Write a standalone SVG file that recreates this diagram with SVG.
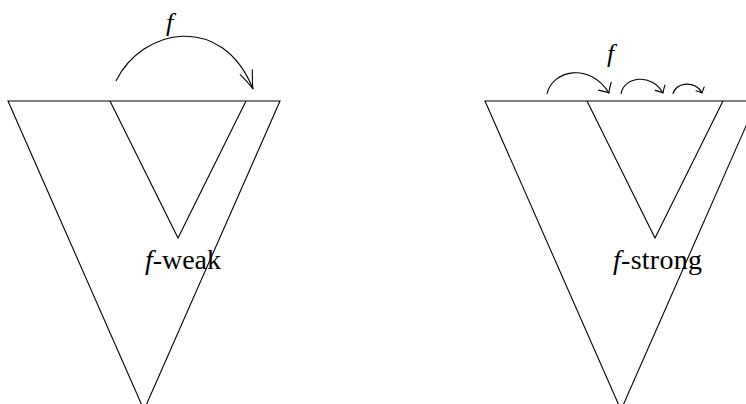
<svg xmlns="http://www.w3.org/2000/svg" width="746" height="404" viewBox="0 0 746 404">
<style>
.ln{fill:none;stroke:#000;stroke-width:1.1;stroke-linejoin:miter}
.arc{fill:none;stroke:#000;stroke-width:1.1}
.hd{fill:none;stroke:#000;stroke-width:1.1;stroke-linecap:round}
.t{font-family:"Liberation Serif","Times New Roman",serif;font-size:26px;fill:#000}
.lb{font-size:28px}
.it{font-style:italic}
</style>
<defs>
<marker id="headL" markerUnits="userSpaceOnUse" markerWidth="40" markerHeight="40" refX="0" refY="0" orient="auto" overflow="visible"><path class="hd" d="M-18,-6.5 Q-6,-1.5 0,0 Q-6,1.5 -18,6.5"/></marker>
<marker id="head1" markerUnits="userSpaceOnUse" markerWidth="30" markerHeight="30" refX="0" refY="0" orient="auto" overflow="visible"><path class="hd" d="M-8,-7.5 Q-3,-2 0,0 Q-3,2 -8,7.5"/></marker>
<marker id="head2" markerUnits="userSpaceOnUse" markerWidth="30" markerHeight="30" refX="0" refY="0" orient="auto" overflow="visible"><path class="hd" d="M-6,-5.5 Q-2.2,-1.5 0,0 Q-2.2,1.5 -6,5.5"/></marker>
<marker id="head3" markerUnits="userSpaceOnUse" markerWidth="30" markerHeight="30" refX="0" refY="0" orient="auto" overflow="visible"><path class="hd" d="M-4.5,-4.5 Q-1.6,-1.2 0,0 Q-1.6,1.2 -4.5,4.5"/></marker>
</defs>

<g id="weak-outer"><path class="ln" d="M8,101 L280,101 L144,410 Z"/></g>
<g id="weak-inner"><path class="ln" d="M110,101 L178,238 L246,101"/></g>
<g id="strong-outer"><path class="ln" d="M485,101 L757,101 L621,410 Z"/></g>
<g id="strong-inner"><path class="ln" d="M587,101 L655,238 L723,101"/></g>

<g id="connectors">
<path class="arc" d="M116,81 C142,28 222,12 253,89" marker-end="url(#headL)"/>
<path class="arc" d="M547,94 C552,70 590,62 609,93" marker-end="url(#head1)"/>
<path class="arc" d="M621,94 C624,76 652,73 663,93" marker-end="url(#head2)"/>
<path class="arc" d="M673,94 C675,82 696,80 702,93" marker-end="url(#head3)"/>
</g>

<g id="labels">
<text class="t it" x="166" y="31">f</text>
<text class="t it" x="607" y="62">f</text>
<text class="t lb" x="145" y="269" textLength="76" lengthAdjust="spacing"><tspan class="it">f</tspan>-weak</text>
<text class="t lb" x="613" y="269" textLength="89" lengthAdjust="spacing"><tspan class="it">f</tspan>-strong</text>
</g>
</svg>
